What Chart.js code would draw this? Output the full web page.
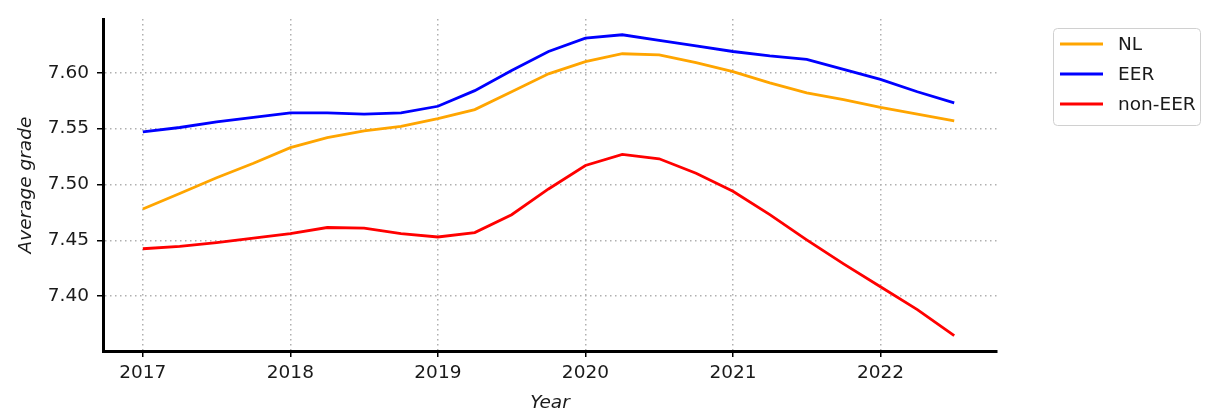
<!DOCTYPE html>
<html>
<head>
<meta charset="utf-8">
<script src="https://cdn.jsdelivr.net/npm/chart.js@4/dist/chart.umd.min.js"></script>
<style>
  html, body { margin: 0; padding: 0; background: #fff; }
  #wrap { width: 1206px; height: 414px; }
</style>
</head>
<body>
<div id="wrap"><canvas id="c" width="1206" height="414"></canvas></div>
<script>
const years = [2017, 2017.25, 2017.5, 2017.75, 2018, 2018.25, 2018.5, 2018.75,
  2019, 2019.25, 2019.5, 2019.75, 2020, 2020.25, 2020.5, 2020.75,
  2021, 2021.25, 2021.5, 2021.75, 2022, 2022.25, 2022.5];
const nlValues = [7.478, 7.492, 7.506, 7.519, 7.533, 7.542, 7.548, 7.552,
  7.559, 7.567, 7.583, 7.599, 7.610, 7.617, 7.616, 7.609,
  7.601, 7.591, 7.582, 7.576, 7.569, 7.563, 7.557];
const eerValues = [7.547, 7.551, 7.556, 7.560, 7.564, 7.564, 7.563, 7.564,
  7.570, 7.584, 7.602, 7.619, 7.631, 7.634, 7.629, 7.624,
  7.619, 7.615, 7.612, 7.603, 7.594, 7.583, 7.573];
const nonEerValues = [7.4425, 7.4446, 7.448, 7.452, 7.456, 7.4615, 7.461, 7.456,
  7.453, 7.457, 7.473, 7.496, 7.517, 7.527, 7.523, 7.510,
  7.494, 7.473, 7.4505, 7.429, 7.4085, 7.388, 7.3647];
const seriesNames = ['NL', 'EER', 'non-EER'];
const seriesColors = ['#FFA500', '#0000FF', '#FF0000'];
const xTickValues = [2017, 2018, 2019, 2020, 2021, 2022];
const yTickValues = [7.40, 7.45, 7.50, 7.55, 7.60];

const seriesData = [nlValues, eerValues, nonEerValues];
const datasets = seriesNames.map((name, i) => ({
  label: name,
  data: years.map((x, k) => ({ x: x, y: seriesData[i][k] })),
  borderColor: seriesColors[i],
  backgroundColor: seriesColors[i],
  borderWidth: 2.8,
  pointRadius: 0,
  tension: 0,
  fill: false
}));

const FONT = "'DejaVu Sans', sans-serif";
const FS = 18.5;

const customLegend = {
  id: 'customLegend',
  afterDraw(chart) {
    const ctx = chart.ctx;
    const x0 = 1053, y0 = 28, w = 147, h = 97;
    ctx.save();
    ctx.strokeStyle = '#d0d0d0';
    ctx.lineWidth = 1;
    ctx.beginPath();
    if (ctx.roundRect) ctx.roundRect(x0 + 0.5, y0 + 0.5, w, h, 4); else ctx.rect(x0 + 0.5, y0 + 0.5, w, h);
    ctx.stroke();
    ctx.font = FS + 'px ' + FONT;
    ctx.textBaseline = 'middle';
    ctx.textAlign = 'left';
    chart.data.datasets.forEach((ds, i) => {
      const yy = 44 + i * 30;
      ctx.strokeStyle = ds.borderColor;
      ctx.lineWidth = 2.8;
      ctx.beginPath();
      ctx.moveTo(1060, yy);
      ctx.lineTo(1103, yy);
      ctx.stroke();
      ctx.fillStyle = '#1a1a1a';
      ctx.fillText(ds.label, 1118, yy + 1);
    });
    ctx.restore();
  }
};

const gridOpts = {
  color: '#b0b0b0',
  lineWidth: 1.5,
  drawTicks: true,
  tickLength: 6,
  tickColor: '#000',
  tickWidth: 1.5,
  tickBorderDash: []
};
const borderOpts = { display: true, color: '#000', width: 3, dash: [1.5, 3.5] };

new Chart(document.getElementById('c'), {
  type: 'line',
  data: { datasets },
  options: {
    responsive: false,
    animation: false,
    devicePixelRatio: 1,
    layout: { padding: { left: 0, right: 209, top: 16, bottom: 0 } },
    plugins: {
      legend: { display: false },
      tooltip: { enabled: false }
    },
    scales: {
      x: {
        type: 'linear',
        min: 2016.73,
        max: 2022.79,
        afterBuildTicks: (s) => { s.ticks = xTickValues.map(v => ({ value: v })); },
        afterFit: (s) => { s.height = 63; },
        ticks: {
          callback: (v) => String(v),
          color: '#1a1a1a',
          font: { family: FONT, size: FS },
          padding: 5,
          maxRotation: 0
        },
        grid: gridOpts,
        border: borderOpts,
        title: {
          display: true,
          text: 'Year',
          color: '#1a1a1a',
          font: { family: FONT, size: FS, style: 'italic' },
          padding: { top: 4, bottom: 0 }
        }
      },
      y: {
        type: 'linear',
        min: 7.351,
        max: 7.648,
        afterBuildTicks: (s) => { s.ticks = yTickValues.map(v => ({ value: v })); },
        afterFit: (s) => { s.width = 103; },
        ticks: {
          callback: (v) => Number(v).toFixed(2),
          color: '#1a1a1a',
          font: { family: FONT, size: FS },
          padding: 8
        },
        grid: gridOpts,
        border: borderOpts,
        title: {
          display: true,
          text: 'Average grade',
          color: '#1a1a1a',
          font: { family: FONT, size: FS, style: 'italic' },
          padding: { top: 15, bottom: 4 }
        }
      }
    }
  },
  plugins: [customLegend]
});
</script>
</body>
</html>
